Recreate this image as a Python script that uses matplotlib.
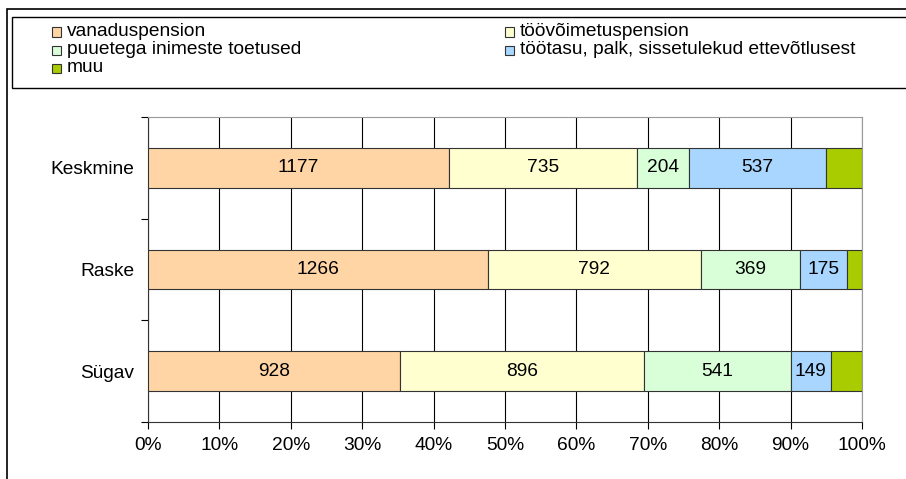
import numpy as np
import matplotlib
matplotlib.use('Agg')
import matplotlib.pyplot as plt
from matplotlib.patches import Rectangle

plt.rcParams['font.family'] = ['Liberation Sans', 'DejaVu Sans']

categories = ['Keskmine', 'Raske', 'Sügav']
series = ['vanaduspension', 'töövõimetuspension', 'puuetega inimeste toetused',
          'töötasu, palk, sissetulekud ettevõtlusest', 'muu']
vanadus = [1177, 1266, 928]
toovoime = [735, 792, 896]
puuetega = [204, 369, 541]
tootasu = [537, 175, 149]
muu = [141, 56, 114]   # (not labelled)
colors = ['#FFD5A6', '#FFFFD0', '#D8FFD8', '#A8D6FF', '#A8CC00']
show_labels = [True, True, True, True, False]

W, H = 906, 479
FS = 13.8

data = np.array([vanadus, toovoime, puuetega, tootasu, muu], dtype=float)
pct = data / data.sum(axis=0) * 100

fig = plt.figure(figsize=(W / 100, H / 100), dpi=100)
ax = fig.add_axes([148/W, 57/H, 714/W, 305/H])

ypos = np.array([2, 1, 0])
left = np.zeros(3)
for i in range(len(series)):
    ax.barh(ypos, pct[i], left=left, height=0.39, color=colors[i],
            edgecolor='#333333', linewidth=0.8, zorder=3)
    if show_labels[i]:
        for j in range(3):
            ax.text(left[j] + pct[i][j] / 2, ypos[j], str(int(data[i][j])),
                    ha='center', va='center', fontsize=FS, zorder=4)
    left += pct[i]

ax.set_xlim(0, 100)
ax.set_ylim(-0.5, 2.5)
ax.set_xticks(np.arange(0, 101, 10))
ax.set_xticklabels([f'{v}%' for v in range(0, 101, 10)], fontsize=FS)
ax.xaxis.grid(True, color='black', linewidth=0.8, zorder=0)
ax.tick_params(axis='x', direction='out', length=5, pad=6)

ax.set_yticks([-0.5, 0.5, 1.5, 2.5])
ax.set_yticklabels([])
ax.set_yticks(ypos, minor=True)
ax.set_yticklabels(categories, minor=True, fontsize=FS)
ax.tick_params(axis='y', which='major', direction='out', length=5)
ax.tick_params(axis='y', which='minor', length=0, pad=10)

for s in ['top', 'right']:
    ax.spines[s].set_color('#999999')
for s in ['left', 'bottom']:
    ax.spines[s].set_color('#333333')


def fx(px):
    return px / W


def fy(py):
    return 1 - py / H


# chart area frame (top and left visible)
fig.add_artist(Rectangle((fx(7), fy(H + 10)), fx(W + 10), fy(9) - fy(H + 10),
                         transform=fig.transFigure, fill=False,
                         edgecolor='black', linewidth=1.2))
# legend frame
fig.add_artist(Rectangle((fx(12), fy(88)), fx(W + 10), fy(17) - fy(88),
                         transform=fig.transFigure, facecolor='white',
                         edgecolor='black', linewidth=1.0))

# legend entries, row-wise in two columns
col_x = [52, 505]
row_y = [32, 50, 68]
for k, name in enumerate(series):
    cx = col_x[k % 2]
    cy = row_y[k // 2]
    fig.add_artist(Rectangle((fx(cx), fy(cy + 4.5)), fx(9), fy(cy - 4.5) - fy(cy + 4.5),
                             transform=fig.transFigure, facecolor=colors[k],
                             edgecolor='#333333', linewidth=0.8))
    fig.text(fx(cx + 15), fy(cy), name, fontsize=FS, va='center', ha='left')

fig.savefig('out.png', dpi=100)
